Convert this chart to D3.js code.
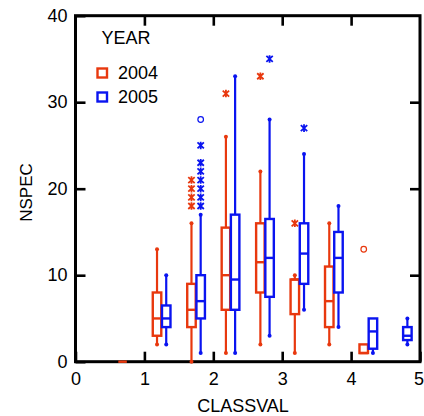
<!DOCTYPE html>
<html>
<head>
<meta charset="utf-8">
<script src="https://cdn.jsdelivr.net/npm/d3@7"></script>
<style>
  html, body { margin: 0; padding: 0; background: #fff; }
  svg { display: block; font-family: "Liberation Sans", Arial, sans-serif; }
</style>
</head>
<body>
<svg id="chart" width="424" height="416"></svg>
<script>
// ---- data ----
const classVals = [0.75, 1.25, 1.75, 2.25, 2.75, 3.25, 3.75, 4.25, 4.75];
const years = ["2004", "2005"];
const xTicks = [0, 1, 2, 3, 4, 5];
const yTicks = [0, 10, 20, 30, 40];

const lo2004  = [0, 2, 0, 1, 2, 1, 2, 1, null];
const q1_2004 = [0, 3, 4, 6, 8, 5.5, 4, 1, null];
const med2004 = [0, 5, 6, 10, 11.5, 9.5, 7, 1, null];
const q3_2004 = [0, 8, 9, 15.5, 16, 9.5, 11, 2, null];
const hi2004  = [0, 13, 16, 26, 22, 10, 16, 2, null];

const lo2005  = [null, 2, 1, 1, 3, 6, 4, 1, 2];
const q1_2005 = [null, 4, 5, 6, 7.5, 9, 8, 1.5, 2.5];
const med2005 = [null, 5, 7, 9.5, 12, 12.5, 12, 3.5, 3];
const q3_2005 = [null, 6.5, 10, 17, 16.5, 16, 15, 5, 4];
const hi2005  = [null, 10, 17, 33, 28, 24, 18, 5, 5];

// outliers: [class, value]
const stars2004   = [[1.75, 18], [1.75, 19], [1.75, 20], [1.75, 21], [2.25, 31], [2.75, 33], [3.25, 16]];
const circles2004 = [[4.25, 13]];
const stars2005   = [[1.75, 18], [1.75, 19], [1.75, 20], [1.75, 21], [1.75, 22], [1.75, 23], [1.75, 25], [2.75, 35], [3.25, 27]];
const circles2005 = [[1.75, 28]];

const colors = { "2004": "#e8380e", "2005": "#0a14f0" };

// ---- build ----
const series = [
  { year: "2004", lo: lo2004, q1: q1_2004, med: med2004, q3: q3_2004, hi: hi2004, stars: stars2004, circles: circles2004, off: -4.6 },
  { year: "2005", lo: lo2005, q1: q1_2005, med: med2005, q3: q3_2005, hi: hi2005, stars: stars2005, circles: circles2005, off: 4.6 }
];

const svg = d3.select("#chart");
const x = d3.scaleLinear().domain([0, 5]).range([75.5, 420]);
const y = d3.scaleLinear().domain([0, 40]).range([361.7, 15.7]);
const boxW = 8.5;

// ---- axes / frame (drawn first, marks on top) ----
const fs = 18;
const ax = svg.append("g");
const styleAxis = sel => {
  sel.select(".domain").remove();
  sel.selectAll(".tick line").attr("stroke", "#000").attr("stroke-width", 2.6);
  sel.selectAll(".tick text").attr("font-size", fs).attr("fill", "#000")
    .attr("font-family", "'Liberation Sans', Arial, sans-serif");
};
const xAxisG = ax.append("g").attr("transform", `translate(0,${y(0)})`)
  .call(d3.axisBottom(x).tickValues(xTicks).tickSizeInner(-10).tickSizeOuter(0).tickPadding(11).tickFormat(d3.format("d")))
  .call(styleAxis);
// keep the last label inside the window
xAxisG.selectAll(".tick text").filter(d => d === 5).attr("text-anchor", "end").attr("x", 3.5);
ax.append("g").attr("transform", `translate(${x(0)},0)`)
  .call(d3.axisLeft(y).tickValues(yTicks).tickSizeInner(-10).tickSizeOuter(0).tickPadding(8).tickFormat(d3.format("d")))
  .call(styleAxis);
ax.append("g").attr("transform", `translate(0,${y(40)})`)
  .call(d3.axisTop(x).tickValues(xTicks.slice(1, -1)).tickSizeInner(-10).tickSizeOuter(0).tickFormat(""))
  .call(styleAxis);
ax.append("g").attr("transform", `translate(${x(5)},0)`)
  .call(d3.axisRight(y).tickValues(yTicks.slice(1, -1)).tickSizeInner(-10).tickSizeOuter(0).tickFormat(""))
  .call(styleAxis);
ax.append("rect")
  .attr("x", x(0)).attr("y", y(40)).attr("width", x(5) - x(0)).attr("height", y(0) - y(40))
  .attr("fill", "none").attr("stroke", "#000").attr("stroke-width", 3);

const g = svg.append("g");

series.forEach(s => {
  const c = colors[s.year];
  const sg = g.append("g");
  classVals.forEach((cv, i) => {
    if (s.q1[i] == null) return;
    const cx = x(cv) + s.off;
    // whiskers
    sg.append("line").attr("x1", cx).attr("x2", cx)
      .attr("y1", y(s.hi[i])).attr("y2", y(s.q3[i]))
      .attr("stroke", c).attr("stroke-width", 2.2);
    sg.append("line").attr("x1", cx).attr("x2", cx)
      .attr("y1", y(s.q1[i])).attr("y2", y(s.lo[i]))
      .attr("stroke", c).attr("stroke-width", 2.2);
    if (s.hi[i] > s.q3[i]) sg.append("circle").attr("cx", cx).attr("cy", y(s.hi[i])).attr("r", 2).attr("fill", c);
    if (s.lo[i] < s.q1[i]) sg.append("circle").attr("cx", cx).attr("cy", y(s.lo[i])).attr("r", 2).attr("fill", c);
    // box
    sg.append("rect")
      .attr("x", cx - boxW / 2).attr("width", boxW)
      .attr("y", y(s.q3[i])).attr("height", Math.max(0, y(s.q1[i]) - y(s.q3[i])))
      .attr("fill", "none").attr("stroke", c).attr("stroke-width", 2.4);
    sg.append("line")
      .attr("x1", cx - boxW / 2).attr("x2", cx + boxW / 2)
      .attr("y1", y(s.med[i])).attr("y2", y(s.med[i]))
      .attr("stroke", c).attr("stroke-width", 2.4);
  });
  // star outliers
  const starPath = "M-3.2,-3L3.2,3M-3.2,3L3.2,-3M0,-3.8L0,3.8";
  s.stars.forEach(([cv, v]) => {
    sg.append("path").attr("d", starPath)
      .attr("transform", `translate(${x(cv) + s.off},${y(v)})`)
      .attr("stroke", c).attr("stroke-width", 1.8).attr("fill", "none");
  });
  s.circles.forEach(([cv, v]) => {
    sg.append("circle").attr("cx", x(cv) + s.off).attr("cy", y(v)).attr("r", 2.8)
      .attr("fill", "none").attr("stroke", c).attr("stroke-width", 1.2);
  });
});

// titles
svg.append("text").attr("x", 243).attr("y", 411.5).attr("text-anchor", "middle")
  .attr("font-size", fs).attr("fill", "#000").text("CLASSVAL");
svg.append("text").attr("transform", "translate(31.5,192.5) rotate(-90)").attr("text-anchor", "middle")
  .attr("font-size", 17).attr("fill", "#000").text("NSPEC");

// legend
const lg = svg.append("g");
lg.append("text").attr("x", 101.5).attr("y", 44).attr("font-size", fs).attr("fill", "#000").text("YEAR");
years.forEach((yr, i) => {
  const cy = 73 + i * 24;
  lg.append("rect").attr("x", 97.5).attr("y", cy - 4.5).attr("width", 9.5).attr("height", 9)
    .attr("fill", "none").attr("stroke", colors[yr]).attr("stroke-width", 2.4);
  lg.append("text").attr("x", 118).attr("y", cy + 5.5).attr("font-size", fs).attr("fill", "#000").text(yr);
});
</script>
</body>
</html>
